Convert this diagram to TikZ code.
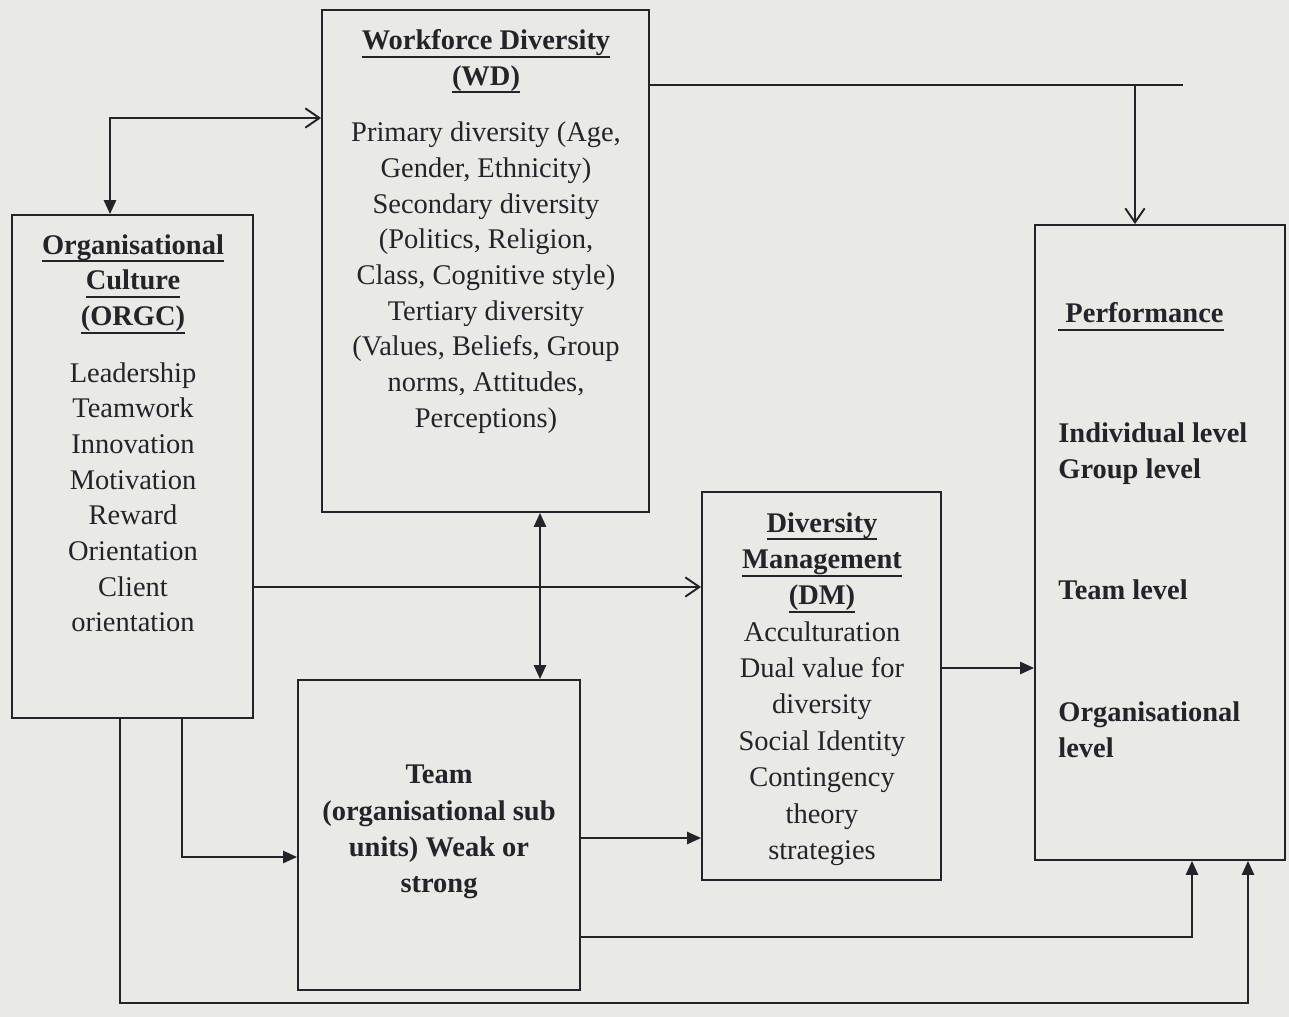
\documentclass[tikz,border=0pt]{standalone}
\usepackage{fontspec}
\setmainfont{Liberation Serif}
\usetikzlibrary{arrows.meta,positioning}
\definecolor{paper}{RGB}{233,234,230}
\definecolor{ink}{RGB}{35,35,42}
\newcommand{\titleline}[1]{\leavevmode\vtop{\hbox{\vrule width 0pt depth 3.6pt #1}\hrule height 1.1pt}}

\begin{document}
\begin{tikzpicture}[x=0.02cm, y=-0.02cm,
	boxnode/.style={rectangle, draw=ink, line width=1.1pt, inner sep=0pt},
	boxtext/.style={align=center, inner sep=0pt, text=ink, font=\fontsize{16.2}{20.3}\selectfont},
	line/.style={draw=ink, line width=1.1pt},
	arrowfill/.style={line, -{Triangle[length=8pt,width=7pt]}},
	arrowopen/.style={line, -{Straight Barb[length=8pt,width=11pt]}}]
	\fill[paper] (0,0) rectangle (1289,1017);
	\useasboundingbox (0,0) rectangle (1289,1017);
	%Nodes:
	\node[boxnode, minimum width=4.82cm, minimum height=10.06cm] (orgc) at (132.5, 466.5) {};
	\node[boxnode, minimum width=6.54cm, minimum height=10.04cm] (wd) at (485.5, 261) {};
	\node[boxnode, minimum width=5.0cm, minimum height=12.7cm] (perf) at (1160, 542.5) {};
	\node[boxnode, minimum width=4.78cm, minimum height=7.76cm] (dm) at (821.5, 686) {};
	\node[boxnode, minimum width=5.64cm, minimum height=6.2cm] (team) at (439, 835) {};
	%Texts:
	\node[boxtext, anchor=north] (orgctext) at (133, 234) {\titleline{\textbf{Organisational}}\\ \titleline{\textbf{Culture}}\\ \titleline{\textbf{(ORGC)}}\\[12pt] Leadership\\ Teamwork\\ Innovation\\ Motivation\\ Reward\\ Orientation\\ Client\\ orientation};
	\node[boxtext, anchor=north] (wdtext) at (486, 29) {\titleline{\textbf{Workforce Diversity}}\\ \titleline{\textbf{(WD)}}\\[12pt] Primary diversity (Age,\\ Gender, Ethnicity)\\ Secondary diversity\\ (Politics, Religion,\\ Class, Cognitive style)\\ Tertiary diversity\\ (Values, Beliefs, Group\\ norms, Attitudes,\\ Perceptions)};
	\node[boxtext, anchor=north west, align=left, font=\fontsize{16.2}{20.3}\selectfont\bfseries] (perftext) at (1058, 302) {\titleline{\ Performance}\\[48pt] Individual level\\ Group level\\[49pt] Team level\\[49pt] Organisational\\ level};
	\node[boxtext, anchor=north, font=\fontsize{16.2}{20.7}\selectfont] (dmtext) at (822, 512) {\titleline{\textbf{Diversity}}\\ \titleline{\textbf{Management}}\\ \titleline{\textbf{(DM)}}\\ Acculturation\\ Dual value for\\ diversity\\ Social Identity\\ Contingency\\ theory\\ strategies};
	\node[boxtext, anchor=north, font=\fontsize{16.2}{20.5}\selectfont\bfseries] (teamtext) at (439, 765) {Team\\ (organisational sub\\ units) Weak or\\ strong};
	%Edges:
	\coordinate (c1) at (110, 118);
	\coordinate (c2) at (1135, 85);
	\coordinate (c2end) at (1183, 85);
	\coordinate (c3) at (540, 0);
	\coordinate (c4) at (0, 587);
	\coordinate (c5) at (182, 857);
	\coordinate (c6a) at (120, 1003);
	\coordinate (c6b) at (1248, 1003);
	\coordinate (c7) at (0, 838);
	\coordinate (c8) at (1192, 937);
	\coordinate (c9) at (0, 668);
	\draw[line, {Triangle[length=8pt,width=7pt]}-{Straight Barb[length=8pt,width=11pt]}] (orgc.north -| c1) |- (wd.west |- c1);
	\draw[line] (wd.east |- c2) -- (c2end);
	\draw[arrowopen] (c2) -- (perf.north -| c2);
	\draw[line, {Triangle[length=8pt,width=7pt]}-{Triangle[length=8pt,width=7pt]}] (wd.south -| c3) -- (team.north -| c3);
	\draw[arrowopen] (orgc.east |- c4) -- (dm.west |- c4);
	\draw[arrowfill] (orgc.south -| c5) |- (team.west |- c5);
	\draw[arrowfill] (orgc.south -| c6a) -- (c6a) -- (c6b) -- (perf.south -| c6b);
	\draw[arrowfill] (team.east |- c7) -- (dm.west |- c7);
	\draw[arrowfill] (team.east |- c8) -| (perf.south -| c8);
	\draw[arrowfill] (dm.east |- c9) -- (perf.west |- c9);
\end{tikzpicture}
\end{document}
